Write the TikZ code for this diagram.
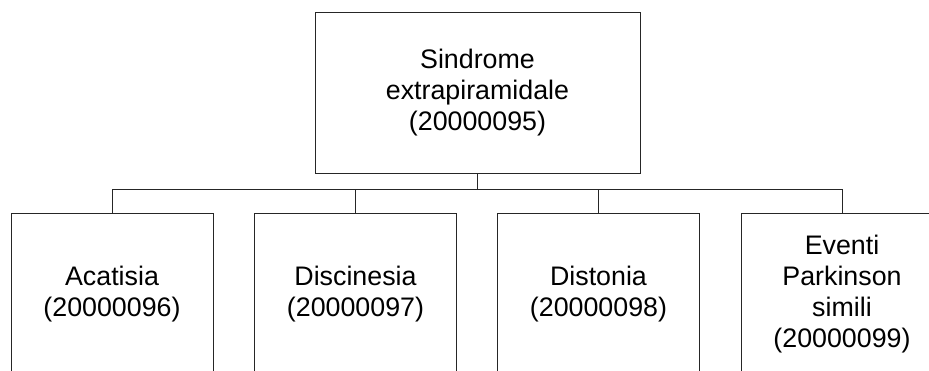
\documentclass[tikz,border=0pt]{standalone}
\usepackage{fontspec}
\setmainfont{Liberation Sans}
\begin{document}
\begin{tikzpicture}[x=1pt,y=1pt,
  box/.style={draw=black!85, line width=0.9pt, rectangle, align=center, inner sep=0pt,
    font=\fontsize{26.8}{31}\selectfont, text=black},
  topbox/.style={box, minimum width=325pt, minimum height=161pt},
  childbox/.style={box, minimum width=202pt, minimum height=162pt},
  link/.style={draw=black!85, line width=0.9pt}]
\useasboundingbox (0,0) rectangle (929,-370);
\clip (0,0) rectangle (929,-370);
\node[topbox] (top) at (477.5,-92.5) {Sindrome\\extrapiramidale\\(20000095)};
\node[childbox] (c1) at (112,-294) {Acatisia\\(20000096)};
\node[childbox] (c2) at (355.5,-294) {Discinesia\\(20000097)};
\node[childbox] (c3) at (598.5,-294) {Distonia\\(20000098)};
\node[childbox] (c4) at (842,-294) {Eventi\\Parkinson\\simili\\(20000099)};
\coordinate (bus) at (477.5,-189);
\draw[link] (top.south) -- (bus);
\foreach \c in {c1,c2,c3,c4} {
  \draw[link] (bus) -| (\c.north);
}
\end{tikzpicture}
\end{document}
